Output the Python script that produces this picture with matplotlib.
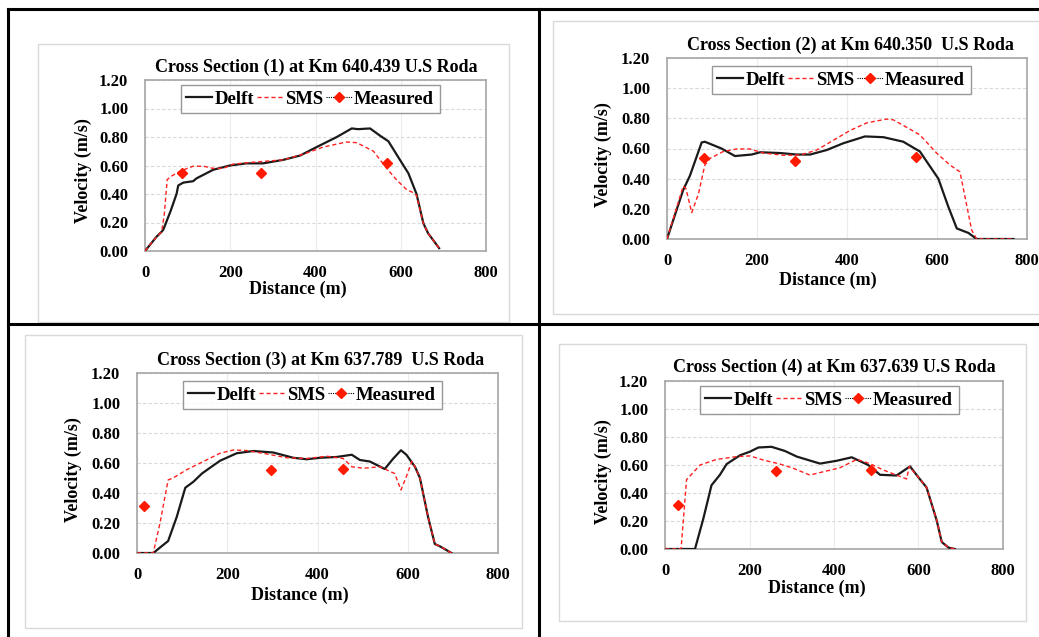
import matplotlib
matplotlib.use("Agg")
import matplotlib.pyplot as plt
from matplotlib.lines import Line2D
from matplotlib.patches import Rectangle
from matplotlib.ticker import FormatStrFormatter

plt.rcParams['font.family'] = ['Liberation Serif', 'DejaVu Serif']
plt.rcParams['font.weight'] = 'bold'

W, H = 1039, 637

# ---- data (distance in m, velocity in m/s) ----
titles = ["Cross Section (1) at Km 640.439 U.S Roda",
          "Cross Section (2) at Km 640.350  U.S Roda",
          "Cross Section (3) at Km 637.789  U.S Roda",
          "Cross Section (4) at Km 637.639 U.S Roda"]

cs1_delft_x = [0, 27, 39, 43, 60, 74, 78, 90, 113, 121, 160, 199, 238, 277, 325, 364, 403,
               450, 485, 500, 528, 551, 571, 598, 618, 637, 653, 664, 690]
cs1_delft_v = [0, 0.10, 0.135, 0.15, 0.28, 0.40, 0.46, 0.48, 0.49, 0.51, 0.57, 0.60, 0.615,
               0.615, 0.64, 0.67, 0.73, 0.80, 0.86, 0.855, 0.86, 0.81, 0.77, 0.64, 0.545,
               0.40, 0.195, 0.125, 0.02]
cs1_sms_x = [0, 27, 39, 45, 52, 59, 82, 113, 137, 160, 184, 207, 262, 325, 372, 419, 473,
             497, 536, 567, 590, 614, 629, 637, 653, 664, 690]
cs1_sms_v = [0, 0.10, 0.135, 0.25, 0.50, 0.52, 0.56, 0.595, 0.595, 0.58, 0.58, 0.61, 0.625,
             0.64, 0.68, 0.73, 0.765, 0.76, 0.70, 0.58, 0.50, 0.43, 0.41, 0.39, 0.195, 0.125,
             0.02]
cs1_meas_x = [86, 271, 567]
cs1_meas_v = [0.55, 0.55, 0.62]

cs2_delft_x = [0, 36, 51, 77, 84, 121, 151, 188, 207, 251, 288, 318, 355, 392, 440, 481,
               525, 562, 603, 625, 644, 670, 688, 770]
cs2_delft_v = [0, 0.325, 0.42, 0.64, 0.645, 0.60, 0.55, 0.56, 0.575, 0.57, 0.56, 0.56, 0.59,
               0.635, 0.68, 0.675, 0.645, 0.58, 0.40, 0.215, 0.07, 0.04, 0, 0]
cs2_sms_x = [0, 36, 42, 55, 70, 84, 96, 125, 155, 184, 214, 259, 296, 333, 370, 407, 444,
             488, 503, 533, 562, 599, 629, 651, 677, 688, 770]
cs2_sms_v = [0, 0.35, 0.335, 0.175, 0.30, 0.49, 0.535, 0.58, 0.597, 0.597, 0.57, 0.555, 0.557,
             0.59, 0.655, 0.72, 0.77, 0.795, 0.79, 0.74, 0.69, 0.57, 0.49, 0.445, 0.06, 0, 0]
cs2_meas_x = [82, 284, 554]
cs2_meas_v = [0.54, 0.517, 0.546]

cs3_delft_x = [0, 36, 69, 88, 107, 125, 144, 165, 184, 221, 258, 302, 346, 376, 406, 442,
               476, 494, 516, 549, 568, 585, 597, 616, 627, 645, 660, 671, 697]
cs3_delft_v = [0, 0, 0.08, 0.24, 0.435, 0.475, 0.53, 0.575, 0.615, 0.665, 0.68, 0.67, 0.635,
               0.625, 0.635, 0.64, 0.655, 0.62, 0.61, 0.56, 0.63, 0.685, 0.655, 0.575, 0.50,
               0.24, 0.06, 0.045, 0]
cs3_sms_x = [0, 36, 51, 69, 80, 110, 147, 184, 214, 243, 288, 332, 376, 421, 457, 476, 502,
             538, 571, 585, 597, 609, 616, 627, 645, 660, 671, 697]
cs3_sms_v = [0, 0, 0.20, 0.487, 0.50, 0.555, 0.61, 0.665, 0.687, 0.683, 0.66, 0.635, 0.63,
             0.645, 0.63, 0.575, 0.565, 0.575, 0.53, 0.42, 0.51, 0.61, 0.575, 0.50, 0.24,
             0.06, 0.045, 0]
cs3_meas_x = [16, 297, 456]
cs3_meas_v = [0.313, 0.555, 0.562]

cs4_delft_x = [0, 71, 91, 110, 130, 146, 178, 201, 221, 252, 284, 312, 367, 406, 442, 481,
               509, 548, 580, 599, 619, 643, 655, 671, 686]
cs4_delft_v = [0, 0, 0.22, 0.455, 0.53, 0.607, 0.67, 0.695, 0.725, 0.73, 0.70, 0.66, 0.61,
               0.63, 0.655, 0.60, 0.53, 0.525, 0.59, 0.515, 0.44, 0.205, 0.05, 0.01, 0]
cs4_sms_x = [0, 38, 51, 83, 122, 170, 201, 233, 272, 304, 343, 375, 414, 454, 485, 517, 548,
             572, 578, 599, 619, 643, 655, 671, 686]
cs4_sms_v = [0, 0, 0.495, 0.60, 0.64, 0.66, 0.665, 0.635, 0.607, 0.576, 0.528, 0.552, 0.58,
             0.64, 0.61, 0.564, 0.528, 0.50, 0.59, 0.515, 0.44, 0.205, 0.05, 0.01, 0]
cs4_meas_x = [30, 263, 487]
cs4_meas_v = [0.317, 0.56, 0.567]

x_ticks = [0, 200, 400, 600, 800]
y_ticks = [0, 0.2, 0.4, 0.6, 0.8, 1.0, 1.2]

# ---- layout in pixels ----
# plot area (l, t, r, b), chart box (l, t, r, b), title (x, y), ylabel (x, y), xlabel (x, y), legend (x, y)
panels = [
    dict(plot=(145, 80, 486, 251), box=(38, 44, 509, 322), title=(316, 67), ylab=(83, 171),
         xlab=(298, 289), leg=(310, 99)),
    dict(plot=(667, 58, 1027, 239), box=(553, 21, 1045, 314), title=(850, 45), ylab=(603, 155),
         xlab=(828, 280), leg=(841, 80)),
    dict(plot=(137, 373, 498, 553), box=(25, 335, 522, 628), title=(321, 360), ylab=(73, 470),
         xlab=(300, 595), leg=(312, 395)),
    dict(plot=(665, 381, 1003, 549), box=(559, 344, 1026, 621), title=(834, 367), ylab=(603, 472),
         xlab=(817, 588), leg=(829, 400)),
]
series = [
    (cs1_delft_x, cs1_delft_v, cs1_sms_x, cs1_sms_v, cs1_meas_x, cs1_meas_v),
    (cs2_delft_x, cs2_delft_v, cs2_sms_x, cs2_sms_v, cs2_meas_x, cs2_meas_v),
    (cs3_delft_x, cs3_delft_v, cs3_sms_x, cs3_sms_v, cs3_meas_x, cs3_meas_v),
    (cs4_delft_x, cs4_delft_v, cs4_sms_x, cs4_sms_v, cs4_meas_x, cs4_meas_v),
]

fig = plt.figure(figsize=(W / 100, H / 100), dpi=100)
fig.patch.set_facecolor('white')


def fx(px):
    return px / W


def fy(py):
    return 1 - py / H


# table lines around the four charts
for x0, y0, x1, y1 in [(8, 9, 1039, 9), (8, 9, 8, 637), (539, 9, 539, 637), (8, 324, 1039, 324)]:
    fig.add_artist(Line2D([fx(x0), fx(x1)], [fy(y0), fy(y1)], color='black', lw=2.2))

legend_handles = [
    Line2D([], [], color='#1a1a1a', lw=1.6),
    Line2D([], [], color='#ff2020', lw=1.0, ls=(0, (3, 2))),
    Line2D([], [], color='black', lw=0.8, ls=(0, (1, 1)), marker='D', ms=5,
           mfc='#ff1a00', mec='#ff1a00'),
]

for p, (dx, dv, sx, sv, mx, mv), title in zip(panels, series, titles):
    bl, bt, br, bb = p['box']
    fig.add_artist(Rectangle((fx(bl), fy(bb)), (br - bl) / W, (bb - bt) / H,
                             transform=fig.transFigure, fill=False, ec='#d9d9d9', lw=1))
    l, t, r, b = p['plot']
    ax = fig.add_axes([fx(l), fy(b), (r - l) / W, (b - t) / H])
    ax.plot(dx, dv, color='#1a1a1a', lw=1.6, zorder=3)
    ax.plot(sx, sv, color='#ff2020', lw=1.0, ls=(0, (3, 2)), zorder=4)
    ax.plot(mx, mv, ls='none', marker='D', ms=5.5, mfc='#ff1a00', mec='#ff1a00', zorder=5)

    ax.set_xlim(0, 800)
    ax.set_ylim(0, 1.2)
    ax.set_xticks(x_ticks)
    ax.set_yticks(y_ticks)
    ax.yaxis.set_major_formatter(FormatStrFormatter('%.2f'))
    ax.tick_params(axis='y', length=0, labelsize=12, pad=12)
    ax.tick_params(axis='x', length=0, labelsize=12, pad=10)
    for lab in ax.get_xticklabels() + ax.get_yticklabels():
        lab.set_fontweight('bold')
    ax.grid(axis='y', color='#d9d9d9', ls=(0, (3, 2)), lw=0.8)
    ax.grid(axis='x', color='#ececec', ls='-', lw=0.8)
    ax.set_axisbelow(True)
    for sp in ax.spines.values():
        sp.set_color('#a6a6a6')
        sp.set_linewidth(1.2)

    fig.text(fx(p['title'][0]), fy(p['title'][1]), title, ha='center', va='center',
             fontsize=13, fontweight='bold')
    fig.text(fx(p['ylab'][0]), fy(p['ylab'][1]), 'Velocity (m/s)', rotation=90,
             ha='center', va='center', fontsize=13, fontweight='bold')
    fig.text(fx(p['xlab'][0]), fy(p['xlab'][1]), 'Distance (m)',
             ha='center', va='center', fontsize=13, fontweight='bold')

    leg = fig.legend(legend_handles, ['Delft', 'SMS', 'Measured'], ncol=3,
                     loc='center', bbox_to_anchor=(fx(p['leg'][0]), fy(p['leg'][1])),
                     prop={'size': 13.5, 'weight': 'bold'}, frameon=True, fancybox=False,
                     handlelength=1.4, handletextpad=0.1, columnspacing=0.15,
                     borderpad=0.3, borderaxespad=0)
    leg.get_frame().set_edgecolor('#7f7f7f')
    leg.get_frame().set_linewidth(1.0)

fig.savefig('out.png', dpi=100)
